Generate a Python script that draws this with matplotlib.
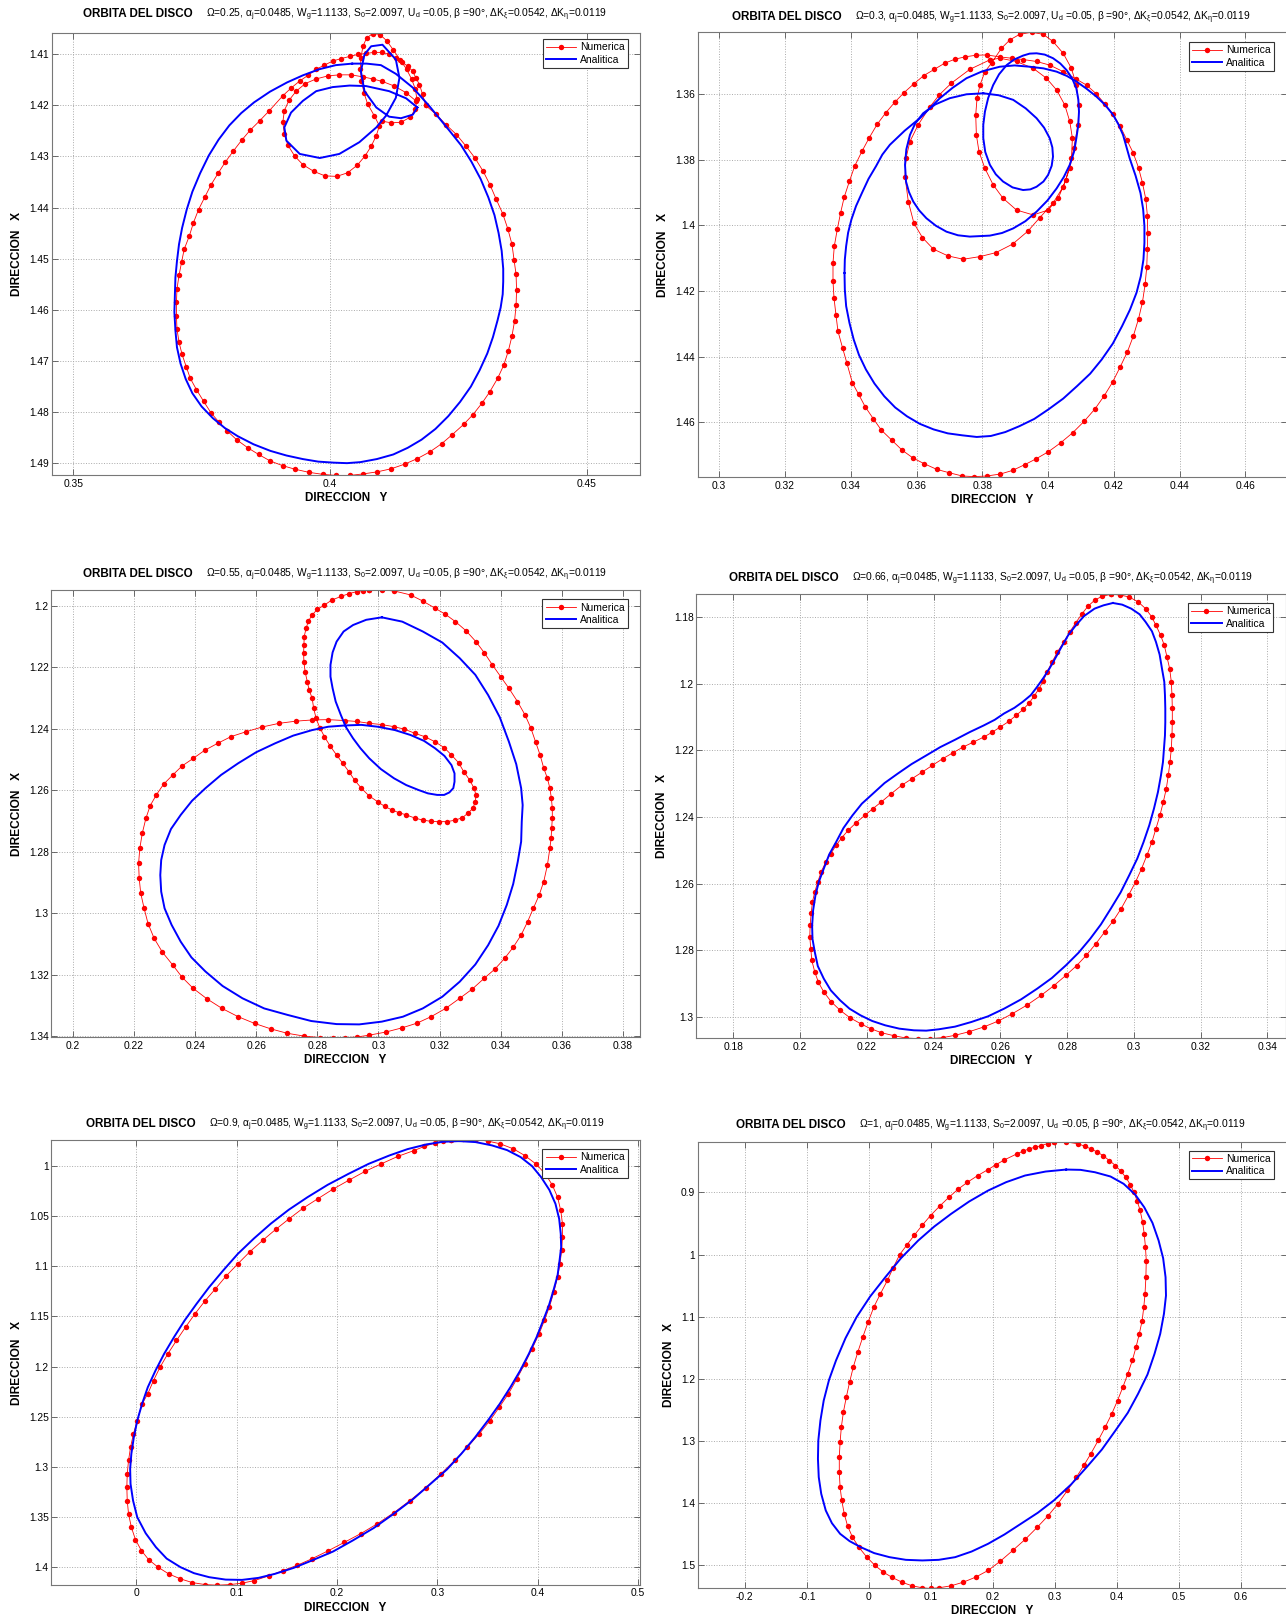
import matplotlib
matplotlib.use('Agg')
import matplotlib.pyplot as plt
from matplotlib.ticker import FuncFormatter

plt.rcParams['font.family'] = ['Liberation Sans', 'DejaVu Sans']
plt.rcParams['mathtext.default'] = 'regular'

# ---- data: (direccion Y, direccion X) pairs ----

omegas = ['0.25', '0.3', '0.55', '0.66', '0.9', '1']

# Omega = 0.25
num1_outer = [(0.4186,1.4200),(0.4206,1.4217),(0.4226,1.4238),(0.4246,1.4257),(0.4264,1.4279),(0.4282,1.4303),
    (0.4298,1.4329),(0.4311,1.4355),(0.4323,1.4383),(0.4336,1.4412),(0.4346,1.4442),(0.4354,1.4472),(0.4358,1.4502),
    (0.4362,1.4531),(0.4363,1.4562),(0.4362,1.4592),(0.4359,1.4623),(0.4354,1.4652),(0.4347,1.4681),(0.4338,1.4709),
    (0.4326,1.4735),(0.4311,1.4761),(0.4296,1.4783),(0.4278,1.4806),(0.4260,1.4825),(0.4238,1.4845),(0.4217,1.4863),
    (0.4194,1.4879),(0.4170,1.4892),(0.4145,1.4903),(0.4119,1.4912),(0.4092,1.4918),(0.4065,1.4922),(0.4039,1.4925),
    (0.4011,1.4925),(0.3986,1.4923),(0.3959,1.4919),(0.3932,1.4913),(0.3908,1.4906),(0.3884,1.4897),(0.3861,1.4884),
    (0.3840,1.4871),(0.3818,1.4855),(0.3800,1.4838),(0.3784,1.4821),(0.3768,1.4802),(0.3754,1.4780),(0.3740,1.4757),
    (0.3728,1.4735),(0.3720,1.4712),(0.3712,1.4688),(0.3706,1.4664),(0.3702,1.4638),(0.3701,1.4612),(0.3701,1.4586),
    (0.3702,1.4560),(0.3706,1.4533),(0.3711,1.4507),(0.3716,1.4482),(0.3726,1.4456),(0.3734,1.4430),(0.3744,1.4404),
    (0.3756,1.4380),(0.3768,1.4356),(0.3782,1.4333),(0.3796,1.4311),(0.3812,1.4289),(0.3828,1.4268),(0.3844,1.4249),
    (0.3863,1.4230),(0.3882,1.4210),(0.3908,1.4181),(0.3924,1.4166),(0.3941,1.4152),(0.3957,1.4141),(0.3973,1.4129),
    (0.3989,1.4121),(0.4005,1.4113),(0.4022,1.4108),(0.4038,1.4104),(0.4054,1.4100),(0.4070,1.4098),(0.4086,1.4096),
    (0.4102,1.4096),(0.4115,1.4100),(0.4128,1.4107),(0.4140,1.4115),(0.4151,1.4123),(0.4161,1.4133),(0.4167,1.4146),
    (0.4174,1.4159),(0.4180,1.4178),(0.4186,1.4200)]
num1_inner = [(0.4167,1.4191),(0.4148,1.4175),(0.4125,1.4162),(0.4102,1.4153),(0.4083,1.4148),(0.4064,1.4144),
    (0.4041,1.4140),(0.4018,1.4140),(0.3996,1.4142),(0.3973,1.4148),(0.3952,1.4157),(0.3934,1.4172),(0.3920,1.4190),
    (0.3911,1.4210),(0.3908,1.4233),(0.3911,1.4256),(0.3918,1.4278),(0.3931,1.4299),(0.3947,1.4316),(0.3968,1.4329),
    (0.3990,1.4338),(0.4013,1.4339),(0.4034,1.4332),(0.4053,1.4317),(0.4068,1.4299),(0.4080,1.4280),(0.4090,1.4259),
    (0.4096,1.4240),(0.4086,1.4220),(0.4073,1.4197),(0.4066,1.4175),(0.4061,1.4152),(0.4059,1.4129),(0.4060,1.4107),
    (0.4064,1.4084),(0.4071,1.4068),(0.4083,1.4059),(0.4097,1.4061),(0.4110,1.4073),(0.4123,1.4091),(0.4136,1.4110),
    (0.4149,1.4129),(0.4159,1.4149),(0.4166,1.4168),(0.4169,1.4188),(0.4166,1.4207),(0.4156,1.4223),(0.4138,1.4233),
    (0.4119,1.4234),(0.4102,1.4231)]
ana1_outer = [(0.4043,1.4118),(0.4071,1.4118),(0.4099,1.4121),(0.4128,1.4138),(0.4161,1.4165),(0.4193,1.4201),
    (0.4232,1.4249),(0.4255,1.4278),(0.4275,1.4310),(0.4293,1.4344),(0.4308,1.4380),(0.4320,1.4415),(0.4328,1.4450),
    (0.4334,1.4485),(0.4337,1.4520),(0.4337,1.4545),(0.4336,1.4570),(0.4332,1.4596),(0.4326,1.4621),(0.4317,1.4654),
    (0.4306,1.4686),(0.4291,1.4719),(0.4274,1.4751),(0.4253,1.4781),(0.4230,1.4809),(0.4205,1.4834),(0.4178,1.4855),
    (0.4151,1.4871),(0.4123,1.4884),(0.4091,1.4893),(0.4059,1.4899),(0.4033,1.4901),(0.4007,1.4900),(0.3977,1.4898),
    (0.3947,1.4893),(0.3915,1.4886),(0.3884,1.4877),(0.3851,1.4864),(0.3820,1.4848),(0.3795,1.4832),(0.3772,1.4813),
    (0.3750,1.4790),(0.3732,1.4764),(0.3719,1.4736),(0.3709,1.4706),(0.3702,1.4674),(0.3699,1.4641),(0.3697,1.4605),
    (0.3698,1.4570),(0.3699,1.4537),(0.3702,1.4505),(0.3706,1.4472),(0.3712,1.4440),(0.3721,1.4404),(0.3732,1.4369),
    (0.3747,1.4333),(0.3764,1.4298),(0.3783,1.4267),(0.3804,1.4239),(0.3827,1.4215),(0.3852,1.4194),(0.3883,1.4173),
    (0.3916,1.4155),(0.3947,1.4141),(0.3979,1.4129),(0.4011,1.4121),(0.4043,1.4118)]
ana1_inner = [(0.4170,1.4204),(0.4148,1.4186),(0.4115,1.4172),(0.4070,1.4162),(0.4038,1.4161),(0.4005,1.4164),
    (0.3973,1.4172),(0.3947,1.4191),(0.3924,1.4214),(0.3911,1.4243),(0.3915,1.4269),(0.3941,1.4295),(0.3980,1.4303),
    (0.4018,1.4295),(0.4057,1.4272),(0.4090,1.4243),(0.4109,1.4220),(0.4128,1.4185),(0.4135,1.4146),(0.4128,1.4110),
    (0.4102,1.4081),(0.4080,1.4084),(0.4067,1.4100),(0.4060,1.4133),(0.4067,1.4172),(0.4090,1.4204),(0.4115,1.4222),
    (0.4138,1.4225),(0.4161,1.4218),(0.4170,1.4204)]

# Omega = 0.3
num2_outer = [(0.3534,1.3624),(0.3562,1.3595),(0.3592,1.3568),(0.3622,1.3543),(0.3654,1.3524),(0.3686,1.3505),
    (0.3717,1.3493),(0.3747,1.3486),(0.3780,1.3481),(0.3813,1.3480),(0.3853,1.3486),(0.3889,1.3490),(0.3924,1.3494),
    (0.3965,1.3500),(0.4005,1.3511),(0.4046,1.3531),(0.4086,1.3554),(0.4117,1.3572),(0.4147,1.3599),(0.4172,1.3629),
    (0.4196,1.3659),(0.4219,1.3697),(0.4239,1.3738),(0.4259,1.3779),(0.4275,1.3824),(0.4287,1.3870),(0.4297,1.3919),
    (0.4302,1.3970),(0.4303,1.4023),(0.4302,1.4073),(0.4300,1.4127),(0.4295,1.4180),(0.4287,1.4234),(0.4275,1.4285),
    (0.4259,1.4338),(0.4241,1.4386),(0.4219,1.4432),(0.4196,1.4478),(0.4171,1.4519),(0.4143,1.4559),(0.4110,1.4597),
    (0.4075,1.4632),(0.4038,1.4663),(0.4001,1.4690),(0.3963,1.4712),(0.3930,1.4729),(0.3892,1.4747),(0.3855,1.4758),
    (0.3814,1.4764),(0.3776,1.4766),(0.3739,1.4764),(0.3699,1.4754),(0.3662,1.4744),(0.3624,1.4727),(0.3589,1.4709),
    (0.3556,1.4685),(0.3525,1.4655),(0.3493,1.4624),(0.3469,1.4590),(0.3444,1.4553),(0.3424,1.4515),(0.3405,1.4480),
    (0.3388,1.4419),(0.3375,1.4373),(0.3361,1.4322),(0.3355,1.4272),(0.3349,1.4221),(0.3346,1.4170),(0.3346,1.4114),
    (0.3350,1.4063),(0.3359,1.4012),(0.3369,1.3962),(0.3380,1.3914),(0.3396,1.3865),(0.3412,1.3819),(0.3434,1.3774),
    (0.3456,1.3733),(0.3480,1.3692),(0.3506,1.3657),(0.3534,1.3624)]
num2_inner = [(0.3823,1.3495),(0.3762,1.3524),(0.3706,1.3566),(0.3669,1.3602),(0.3641,1.3638),(0.3605,1.3693),
    (0.3580,1.3744),(0.3568,1.3795),(0.3565,1.3851),(0.3575,1.3927),(0.3592,1.3993),(0.3618,1.4037),(0.3651,1.4072),
    (0.3696,1.4093),(0.3742,1.4103),(0.3793,1.4095),(0.3841,1.4083),(0.3892,1.4057),(0.3939,1.4017),(0.3975,1.3976),
    (0.4015,1.3932),(0.4046,1.3882),(0.4066,1.3826),(0.4078,1.3765),(0.4091,1.3693),(0.4094,1.3633),(0.4086,1.3572),
    (0.4071,1.3521),(0.4046,1.3475),(0.4015,1.3439),(0.3985,1.3417),(0.3950,1.3411),(0.3914,1.3417),(0.3884,1.3434),
    (0.3858,1.3460),(0.3828,1.3505),(0.3808,1.3531),(0.3793,1.3572),(0.3784,1.3612),(0.3780,1.3663),(0.3782,1.3724),
    (0.3790,1.3775),(0.3808,1.3826),(0.3833,1.3876),(0.3863,1.3917),(0.3904,1.3953),(0.3955,1.3968),(0.4000,1.3953),
    (0.4031,1.3917),(0.4054,1.3861),(0.4071,1.3795),(0.4074,1.3734),(0.4066,1.3683),(0.4051,1.3633),(0.4026,1.3587),
    (0.3995,1.3551),(0.3955,1.3521),(0.3904,1.3500),(0.3853,1.3490),(0.3823,1.3495)]
ana2_outer = [(0.3381,1.4145),(0.3382,1.4104),(0.3386,1.4063),(0.3392,1.4022),(0.3402,1.3982),(0.3416,1.3941),
    (0.3434,1.3901),(0.3454,1.3858),(0.3477,1.3819),(0.3496,1.3784),(0.3519,1.3754),(0.3564,1.3711),(0.3610,1.3673),
    (0.3671,1.3612),(0.3710,1.3580),(0.3752,1.3551),(0.3800,1.3530),(0.3853,1.3516),(0.3898,1.3512),(0.3944,1.3516),
    (0.3986,1.3521),(0.4026,1.3531),(0.4057,1.3544),(0.4086,1.3561),(0.4117,1.3583),(0.4147,1.3607),(0.4174,1.3633),
    (0.4198,1.3663),(0.4214,1.3692),(0.4228,1.3724),(0.4248,1.3795),(0.4266,1.3848),(0.4281,1.3901),(0.4289,1.3950),
    (0.4293,1.4002),(0.4293,1.4053),(0.4290,1.4104),(0.4282,1.4155),(0.4269,1.4205),(0.4249,1.4257),(0.4225,1.4307),
    (0.4197,1.4360),(0.4163,1.4409),(0.4128,1.4452),(0.4088,1.4490),(0.4046,1.4528),(0.4001,1.4561),(0.3958,1.4590),
    (0.3913,1.4612),(0.3870,1.4630),(0.3826,1.4642),(0.3783,1.4645),(0.3739,1.4640),(0.3695,1.4634),(0.3652,1.4622),
    (0.3610,1.4605),(0.3571,1.4582),(0.3535,1.4555),(0.3502,1.4521),(0.3472,1.4482),(0.3446,1.4439),(0.3425,1.4395),
    (0.3409,1.4348),(0.3396,1.4297),(0.3386,1.4246),(0.3382,1.4196),(0.3381,1.4145)]
ana2_inner = [(0.3803,1.3597),(0.3752,1.3600),(0.3701,1.3612),(0.3657,1.3631),(0.3620,1.3658),(0.3596,1.3689),
    (0.3580,1.3724),(0.3569,1.3768),(0.3565,1.3815),(0.3568,1.3866),(0.3577,1.3898),(0.3590,1.3927),(0.3608,1.3954),
    (0.3630,1.3978),(0.3659,1.4001),(0.3691,1.4019),(0.3726,1.4030),(0.3762,1.4034),(0.3823,1.4031),(0.3860,1.4023),
    (0.3894,1.4009),(0.3931,1.3987),(0.3965,1.3958),(0.3998,1.3924),(0.4026,1.3887),(0.4048,1.3852),(0.4066,1.3815),
    (0.4079,1.3775),(0.4086,1.3734),(0.4092,1.3693),(0.4094,1.3653),(0.4092,1.3616),(0.4086,1.3582),(0.4073,1.3551),
    (0.4056,1.3526),(0.4037,1.3506),(0.4015,1.3490),(0.3990,1.3479),(0.3965,1.3475),(0.3944,1.3476),(0.3924,1.3482),
    (0.3897,1.3494),(0.3874,1.3511),(0.3851,1.3539),(0.3833,1.3572),(0.3818,1.3611),(0.3808,1.3653),(0.3803,1.3693),
    (0.3803,1.3734),(0.3809,1.3776),(0.3823,1.3815),(0.3841,1.3844),(0.3863,1.3866),(0.3892,1.3884),(0.3924,1.3892),
    (0.3946,1.3890),(0.3965,1.3882),(0.3986,1.3866),(0.4000,1.3846),(0.4011,1.3818),(0.4015,1.3790),(0.4013,1.3762),
    (0.4005,1.3734),(0.3988,1.3702),(0.3965,1.3673),(0.3932,1.3643),(0.3894,1.3617),(0.3850,1.3603),(0.3803,1.3597)]

# Omega = 0.55
num3 = [(0.2970,1.1948),(0.3011,1.1948),(0.3051,1.1951),(0.3105,1.1964),(0.3145,1.1984),(0.3185,1.2007),
    (0.3219,1.2027),(0.3252,1.2051),(0.3287,1.2081),(0.3319,1.2116),(0.3347,1.2153),(0.3373,1.2192),(0.3400,1.2230),
    (0.3427,1.2268),(0.3455,1.2311),(0.3480,1.2355),(0.3499,1.2398),(0.3514,1.2442),(0.3529,1.2485),(0.3541,1.2528),
    (0.3553,1.2561),(0.3561,1.2593),(0.3566,1.2626),(0.3569,1.2659),(0.3569,1.2691),(0.3567,1.2724),(0.3565,1.2756),
    (0.3561,1.2789),(0.3553,1.2843),(0.3541,1.2897),(0.3526,1.2941),(0.3507,1.2984),(0.3488,1.3028),(0.3467,1.3071),
    (0.3441,1.3111),(0.3413,1.3147),(0.3381,1.3182),(0.3346,1.3212),(0.3307,1.3247),(0.3266,1.3277),(0.3220,1.3310),
    (0.3172,1.3337),(0.3126,1.3358),(0.3078,1.3373),(0.3024,1.3387),(0.2970,1.3397),(0.2930,1.3403),(0.2890,1.3405),
    (0.2850,1.3407),(0.2810,1.3405),(0.2756,1.3400),(0.2702,1.3391),(0.2649,1.3377),(0.2595,1.3359),(0.2541,1.3337),
    (0.2488,1.3310),(0.2439,1.3279),(0.2394,1.3245),(0.2357,1.3208),(0.2327,1.3169),(0.2293,1.3127),(0.2266,1.3082),
    (0.2246,1.3034),(0.2233,1.2984),(0.2222,1.2935),(0.2217,1.2887),(0.2215,1.2838),(0.2219,1.2789),(0.2227,1.2740),
    (0.2239,1.2691),(0.2253,1.2650),(0.2273,1.2615),(0.2297,1.2580),(0.2327,1.2550),(0.2357,1.2521),(0.2394,1.2496),
    (0.2431,1.2470),(0.2474,1.2447),(0.2518,1.2425),(0.2568,1.2409),(0.2619,1.2394),(0.2675,1.2382),(0.2729,1.2375),
    (0.2783,1.2371),(0.2836,1.2370),(0.2890,1.2373),(0.2930,1.2376),(0.2970,1.2382),(0.3011,1.2386),(0.3051,1.2393),
    (0.3085,1.2401),(0.3118,1.2414),(0.3153,1.2426),(0.3185,1.2442),(0.3215,1.2461),(0.3239,1.2485),(0.3262,1.2510),
    (0.3279,1.2539),(0.3298,1.2566),(0.3313,1.2593),(0.3319,1.2615),(0.3317,1.2637),(0.3309,1.2659),(0.3292,1.2675),
    (0.3275,1.2689),(0.3252,1.2697),(0.3225,1.2702),(0.3199,1.2702),(0.3172,1.2701),(0.3145,1.2697),(0.3118,1.2690),
    (0.3091,1.2680),(0.3067,1.2673),(0.3044,1.2664),(0.3020,1.2652),(0.2997,1.2637),(0.2968,1.2617),(0.2944,1.2593),
    (0.2922,1.2567),(0.2903,1.2539),(0.2883,1.2512),(0.2863,1.2485),(0.2842,1.2456),(0.2823,1.2425),(0.2808,1.2396),
    (0.2796,1.2366),(0.2788,1.2333),(0.2783,1.2300),(0.2773,1.2273),(0.2767,1.2246),(0.2760,1.2214),(0.2756,1.2181),
    (0.2755,1.2154),(0.2756,1.2127),(0.2757,1.2100),(0.2763,1.2073),(0.2771,1.2049),(0.2783,1.2029),(0.2800,1.2011),
    (0.2823,1.1997),(0.2847,1.1981),(0.2877,1.1969),(0.2903,1.1960),(0.2930,1.1953),(0.2950,1.1950),(0.2970,1.1948)]
ana3 = [(0.3011,1.2037),(0.3078,1.2051),(0.3145,1.2083),(0.3209,1.2119),(0.3266,1.2170),(0.3317,1.2224),
    (0.3359,1.2290),(0.3397,1.2362),(0.3427,1.2442),(0.3451,1.2515),(0.3467,1.2593),(0.3472,1.2648),(0.3469,1.2702),
    (0.3467,1.2767),(0.3456,1.2832),(0.3441,1.2905),(0.3420,1.2973),(0.3393,1.3041),(0.3359,1.3104),(0.3317,1.3167),
    (0.3266,1.3223),(0.3209,1.3272),(0.3145,1.3310),(0.3080,1.3337),(0.3011,1.3353),(0.2937,1.3362),(0.2863,1.3361),
    (0.2780,1.3351),(0.2702,1.3331),(0.2626,1.3310),(0.2555,1.3277),(0.2490,1.3237),(0.2434,1.3190),(0.2388,1.3144),
    (0.2353,1.3093),(0.2323,1.3038),(0.2300,1.2984),(0.2289,1.2930),(0.2286,1.2876),(0.2289,1.2827),(0.2300,1.2778),
    (0.2321,1.2726),(0.2353,1.2680),(0.2390,1.2634),(0.2434,1.2593),(0.2485,1.2550),(0.2541,1.2512),(0.2600,1.2476),
    (0.2662,1.2447),(0.2721,1.2422),(0.2783,1.2404),(0.2836,1.2393),(0.2890,1.2389),(0.2944,1.2387),(0.2997,1.2393),
    (0.3054,1.2404),(0.3105,1.2420),(0.3149,1.2439),(0.3185,1.2463),(0.3216,1.2488),(0.3239,1.2518),(0.3249,1.2545),
    (0.3249,1.2572),(0.3245,1.2593),(0.3232,1.2607),(0.3215,1.2615),(0.3192,1.2615),(0.3162,1.2610),(0.3131,1.2599),
    (0.3091,1.2583),(0.3051,1.2561),(0.3008,1.2531),(0.2970,1.2496),(0.2941,1.2463),(0.2917,1.2431),(0.2894,1.2395),
    (0.2877,1.2355),(0.2860,1.2311),(0.2850,1.2268),(0.2843,1.2230),(0.2843,1.2192),(0.2850,1.2151),(0.2863,1.2116),
    (0.2886,1.2083),(0.2917,1.2062),(0.2960,1.2045),(0.3011,1.2037)]

# Omega = 0.66
num4 = [(0.2931,1.1731),(0.2959,1.1733),(0.2986,1.1739),(0.3013,1.1754),(0.3035,1.1774),(0.3053,1.1798),
    (0.3066,1.1824),(0.3080,1.1854),(0.3091,1.1884),(0.3099,1.1919),(0.3107,1.1954),(0.3112,1.1994),(0.3114,1.2034),
    (0.3115,1.2074),(0.3115,1.2115),(0.3114,1.2155),(0.3112,1.2195),(0.3108,1.2235),(0.3103,1.2275),(0.3097,1.2315),
    (0.3088,1.2355),(0.3078,1.2395),(0.3066,1.2435),(0.3054,1.2475),(0.3039,1.2515),(0.3023,1.2555),(0.3005,1.2595),
    (0.2984,1.2635),(0.2962,1.2675),(0.2938,1.2712),(0.2912,1.2746),(0.2885,1.2782),(0.2857,1.2816),(0.2828,1.2847),
    (0.2796,1.2876),(0.2760,1.2907),(0.2722,1.2936),(0.2680,1.2965),(0.2636,1.2991),(0.2594,1.3013),(0.2550,1.3031),
    (0.2507,1.3045),(0.2464,1.3056),(0.2427,1.3063),(0.2390,1.3066),(0.2353,1.3066),(0.2316,1.3064),(0.2280,1.3057),
    (0.2243,1.3048),(0.2211,1.3036),(0.2181,1.3021),(0.2149,1.3003),(0.2120,1.2981),(0.2093,1.2955),(0.2071,1.2926),
    (0.2055,1.2897),(0.2044,1.2866),(0.2035,1.2831),(0.2032,1.2796),(0.2029,1.2761),(0.2030,1.2726),(0.2033,1.2690),
    (0.2037,1.2655),(0.2044,1.2625),(0.2053,1.2595),(0.2063,1.2565),(0.2077,1.2535),(0.2092,1.2510),(0.2108,1.2485),
    (0.2125,1.2462),(0.2144,1.2440),(0.2168,1.2417),(0.2194,1.2395),(0.2218,1.2375),(0.2243,1.2355),(0.2273,1.2330),
    (0.2304,1.2305),(0.2335,1.2285),(0.2366,1.2265),(0.2396,1.2245),(0.2427,1.2225),(0.2458,1.2207),(0.2488,1.2190),
    (0.2519,1.2175),(0.2550,1.2160),(0.2576,1.2145),(0.2599,1.2130),(0.2625,1.2113),(0.2648,1.2094),(0.2668,1.2077),
    (0.2685,1.2059),(0.2701,1.2037),(0.2716,1.2014),(0.2729,1.1990),(0.2740,1.1964),(0.2755,1.1934),(0.2771,1.1904),
    (0.2790,1.1874),(0.2808,1.1844),(0.2826,1.1816),(0.2845,1.1789),(0.2862,1.1767),(0.2882,1.1749),(0.2904,1.1737),
    (0.2931,1.1731)]
ana4 = [(0.2937,1.1757),(0.2965,1.1762),(0.2992,1.1774),(0.3017,1.1791),(0.3035,1.1814),(0.3054,1.1842),
    (0.3066,1.1874),(0.3077,1.1912),(0.3084,1.1954),(0.3091,1.1994),(0.3093,1.2034),(0.3094,1.2074),(0.3094,1.2115),
    (0.3093,1.2155),(0.3090,1.2195),(0.3087,1.2235),(0.3081,1.2275),(0.3072,1.2325),(0.3060,1.2375),(0.3046,1.2425),
    (0.3029,1.2475),(0.3010,1.2525),(0.2986,1.2575),(0.2960,1.2627),(0.2931,1.2675),(0.2901,1.2723),(0.2869,1.2766),
    (0.2834,1.2808),(0.2796,1.2846),(0.2754,1.2884),(0.2710,1.2916),(0.2662,1.2948),(0.2611,1.2976),(0.2563,1.2999),
    (0.2513,1.3016),(0.2464,1.3030),(0.2415,1.3038),(0.2378,1.3042),(0.2341,1.3041),(0.2297,1.3036),(0.2255,1.3026),
    (0.2216,1.3013),(0.2181,1.2996),(0.2148,1.2976),(0.2120,1.2951),(0.2092,1.2921),(0.2071,1.2886),(0.2053,1.2848),
    (0.2044,1.2806),(0.2037,1.2766),(0.2036,1.2726),(0.2039,1.2680),(0.2046,1.2635),(0.2056,1.2595),(0.2071,1.2555),
    (0.2087,1.2513),(0.2108,1.2475),(0.2130,1.2433),(0.2157,1.2395),(0.2185,1.2360),(0.2218,1.2330),(0.2253,1.2298),
    (0.2292,1.2270),(0.2334,1.2241),(0.2378,1.2215),(0.2420,1.2190),(0.2464,1.2168),(0.2508,1.2145),(0.2550,1.2125),
    (0.2583,1.2108),(0.2611,1.2089),(0.2642,1.2072),(0.2667,1.2054),(0.2691,1.2034),(0.2710,1.2009),(0.2729,1.1982),
    (0.2747,1.1954),(0.2765,1.1922),(0.2783,1.1889),(0.2803,1.1854),(0.2826,1.1824),(0.2851,1.1796),(0.2882,1.1774),
    (0.2909,1.1764),(0.2937,1.1757)]

# Omega = 0.9
num5 = [(0.3136,0.9735),(0.3258,0.9728),(0.3381,0.9732),(0.3503,0.9748),(0.3626,0.9775),(0.3757,0.9825),
    (0.3871,0.9892),(0.3981,0.9975),(0.4075,1.0075),(0.4145,1.0185),(0.4198,1.0308),(0.4230,1.0441),(0.4247,1.0574),
    (0.4247,1.0708),(0.4239,1.0841),(0.4222,1.0974),(0.4198,1.1107),(0.4161,1.1257),(0.4116,1.1407),(0.4067,1.1540),
    (0.4014,1.1674),(0.3944,1.1823),(0.3871,1.1973),(0.3793,1.2123),(0.3708,1.2273),(0.3618,1.2406),(0.3524,1.2540),
    (0.3417,1.2673),(0.3299,1.2806),(0.3172,1.2939),(0.3034,1.3073),(0.2886,1.3209),(0.2727,1.3339),(0.2568,1.3459),
    (0.2400,1.3572),(0.2237,1.3669),(0.2074,1.3756),(0.1910,1.3842),(0.1747,1.3922),(0.1604,1.3985),(0.1461,1.4039),
    (0.1318,1.4092),(0.1175,1.4139),(0.1052,1.4165),(0.0930,1.4179),(0.0807,1.4185),(0.0685,1.4179),(0.0558,1.4159),
    (0.0439,1.4122),(0.0321,1.4072),(0.0215,1.4005),(0.0121,1.3929),(0.0049,1.3839),(-0.0010,1.3729),(-0.0051,1.3606),
    (-0.0079,1.3472),(-0.0092,1.3339),(-0.0096,1.3206),(-0.0092,1.3073),(-0.0079,1.2939),(-0.0059,1.2806),
    (-0.0030,1.2673),(0.0008,1.2540),(0.0056,1.2373),(0.0113,1.2273),(0.0170,1.2140),(0.0235,1.2007),(0.0313,1.1873),
    (0.0399,1.1740),(0.0489,1.1607),(0.0583,1.1474),(0.0681,1.1347),(0.0787,1.1224),(0.0893,1.1097),(0.1011,1.0974),
    (0.1130,1.0854),(0.1257,1.0741),(0.1387,1.0631),(0.1522,1.0524),(0.1661,1.0418),(0.1808,1.0324),(0.1959,1.0228),
    (0.2114,1.0141),(0.2278,1.0051),(0.2441,0.9975),(0.2605,0.9901),(0.2768,0.9842),(0.2870,0.9801),(0.2972,0.9768),
    (0.3054,0.9748),(0.3136,0.9735)]
ana5 = [(0.3217,0.9748),(0.3381,0.9758),(0.3544,0.9791),(0.3695,0.9838),(0.3830,0.9908),(0.3944,0.9998),
    (0.4034,1.0108),(0.4116,1.0235),(0.4177,1.0374),(0.4214,1.0524),(0.4230,1.0674),(0.4234,1.0807),(0.4218,1.0941),
    (0.4198,1.1091),(0.4157,1.1240),(0.4112,1.1390),(0.4055,1.1540),(0.3989,1.1707),(0.3912,1.1873),(0.3826,1.2040),
    (0.3728,1.2207),(0.3622,1.2373),(0.3503,1.2540),(0.3377,1.2706),(0.3238,1.2873),(0.3095,1.3029),(0.2931,1.3173),
    (0.2756,1.3326),(0.2564,1.3472),(0.2368,1.3612),(0.2155,1.3739),(0.1959,1.3849),(0.1747,1.3939),(0.1567,1.4012),
    (0.1379,1.4072),(0.1216,1.4112),(0.1052,1.4132),(0.0889,1.4129),(0.0725,1.4105),(0.0574,1.4065),(0.0439,1.4005),
    (0.0301,1.3919),(0.0194,1.3805),(0.0092,1.3666),(0.0008,1.3506),(-0.0034,1.3339),(-0.0059,1.3173),
    (-0.0063,1.3023),(-0.0051,1.2873),(-0.0026,1.2706),(0.0008,1.2540),(0.0056,1.2373),(0.0113,1.2207),
    (0.0190,1.2040),(0.0276,1.1873),(0.0374,1.1707),(0.0480,1.1540),(0.0599,1.1374),(0.0725,1.1207),(0.0864,1.1041),
    (0.1011,1.0874),(0.1171,1.0721),(0.1338,1.0574),(0.1518,1.0434),(0.1706,1.0308),(0.1906,1.0185),(0.2114,1.0075),
    (0.2315,0.9975),(0.2523,0.9891),(0.2703,0.9828),(0.2891,0.9781),(0.3054,0.9755),(0.3217,0.9748)]

# Omega = 1
num6 = [(0.2980,0.8193),(0.3179,0.8188),(0.3377,0.8220),(0.3477,0.8257),(0.3576,0.8300),(0.3675,0.8349),
    (0.3775,0.8408),(0.3874,0.8488),(0.3974,0.8568),(0.4060,0.8660),(0.4139,0.8756),(0.4212,0.8874),(0.4272,0.8997),
    (0.4325,0.9142),(0.4371,0.9290),(0.4411,0.9480),(0.4437,0.9668),(0.4457,0.9882),(0.4470,1.0097),(0.4464,1.0365),
    (0.4450,1.0633),(0.4430,1.0847),(0.4404,1.1062),(0.4358,1.1276),(0.4305,1.1491),(0.4245,1.1705),(0.4172,1.1920),
    (0.4093,1.2134),(0.4007,1.2349),(0.3914,1.2563),(0.3808,1.2777),(0.3695,1.2992),(0.3576,1.3206),(0.3464,1.3394),
    (0.3344,1.3582),(0.3199,1.3796),(0.3046,1.4011),(0.2887,1.4204),(0.2715,1.4386),(0.2523,1.4579),(0.2318,1.4761),
    (0.2119,1.4933),(0.1921,1.5083),(0.1722,1.5190),(0.1523,1.5271),(0.1325,1.5330),(0.1126,1.5362),(0.0993,1.5373),
    (0.0861,1.5362),(0.0695,1.5330),(0.0530,1.5271),(0.0377,1.5196),(0.0232,1.5110),(0.0093,1.4997),(-0.0033,1.4869),
    (-0.0159,1.4713),(-0.0265,1.4547),(-0.0344,1.4365),(-0.0397,1.4172),(-0.0437,1.3957),(-0.0464,1.3743),
    (-0.0477,1.3501),(-0.0477,1.3260),(-0.0464,1.3019),(-0.0444,1.2777),(-0.0411,1.2536),(-0.0364,1.2295),
    (-0.0311,1.2054),(-0.0252,1.1812),(-0.0179,1.1571),(-0.0099,1.1330),(-0.0013,1.1088),(0.0079,1.0847),
    (0.0185,1.0633),(0.0298,1.0418),(0.0391,1.0214),(0.0497,1.0000),(0.0609,0.9850),(0.0728,0.9694),(0.0861,0.9528),
    (0.0993,0.9373),(0.1139,0.9223),(0.1291,0.9078),(0.1437,0.8949),(0.1589,0.8837),(0.1755,0.8729),(0.1921,0.8633),
    (0.2053,0.8552),(0.2185,0.8477),(0.2384,0.8381),(0.2483,0.8338),(0.2583,0.8300),(0.2682,0.8273),(0.2781,0.8247),
    (0.2881,0.8214),(0.2980,0.8193)]
ana6 = [(0.3179,0.8633),(0.3411,0.8638),(0.3642,0.8676),(0.3894,0.8745),(0.4106,0.8863),(0.4291,0.9035),
    (0.4437,0.9239),(0.4570,0.9491),(0.4669,0.9775),(0.4742,1.0059),(0.4781,1.0365),(0.4788,1.0660),(0.4755,1.0954),
    (0.4695,1.1276),(0.4603,1.1598),(0.4490,1.1930),(0.4338,1.2241),(0.4172,1.2547),(0.3974,1.2831),(0.3755,1.3137),
    (0.3510,1.3421),(0.3258,1.3700),(0.2980,1.3957),(0.2722,1.4155),(0.2450,1.4332),(0.2185,1.4504),(0.1921,1.4654),
    (0.1656,1.4778),(0.1391,1.4869),(0.1126,1.4912),(0.0861,1.4922),(0.0596,1.4912),(0.0331,1.4869),(0.0086,1.4804),
    (-0.0132,1.4708),(-0.0311,1.4611),(-0.0464,1.4493),(-0.0596,1.4322),(-0.0695,1.4118),(-0.0768,1.3850),
    (-0.0808,1.3582),(-0.0821,1.3287),(-0.0815,1.2992),(-0.0781,1.2670),(-0.0728,1.2349),(-0.0642,1.2016),
    (-0.0530,1.1705),(-0.0377,1.1346),(-0.0199,1.1008),(0.0020,1.0676),(0.0265,1.0365),(0.0517,1.0059),
    (0.0795,0.9775),(0.1053,0.9550),(0.1325,0.9346),(0.1616,0.9147),(0.1921,0.8971),(0.2212,0.8836),(0.2517,0.8729),
    (0.2848,0.8665),(0.3179,0.8633)]

xticks_all = [[0.35, 0.4, 0.45],
              [0.3, 0.32, 0.34, 0.36, 0.38, 0.4, 0.42, 0.44, 0.46],
              [0.2, 0.22, 0.24, 0.26, 0.28, 0.3, 0.32, 0.34, 0.36, 0.38],
              [0.18, 0.2, 0.22, 0.24, 0.26, 0.28, 0.3, 0.32, 0.34],
              [0, 0.1, 0.2, 0.3, 0.4, 0.5],
              [-0.2, -0.1, 0, 0.1, 0.2, 0.3, 0.4, 0.5, 0.6]]
yticks_all = [[1.41, 1.42, 1.43, 1.44, 1.45, 1.46, 1.47, 1.48, 1.49],
              [1.36, 1.38, 1.4, 1.42, 1.44, 1.46],
              [1.2, 1.22, 1.24, 1.26, 1.28, 1.3, 1.32, 1.34],
              [1.18, 1.2, 1.22, 1.24, 1.26, 1.28, 1.3],
              [1, 1.05, 1.1, 1.15, 1.2, 1.25, 1.3, 1.35, 1.4],
              [0.9, 1, 1.1, 1.2, 1.3, 1.4, 1.5]]

numerica = [[num1_outer, num1_inner], [num2_outer, num2_inner], [num3], [num4], [num5], [num6]]
analitica = [[ana1_outer, ana1_inner], [ana2_outer, ana2_inner], [ana3], [ana4], [ana5], [ana6]]

# ---- layout (pixel boxes, limits, title offsets) ----
W, H = 1286, 1617
layout = [
    dict(rect=[51.6, 33.0, 588.8, 442.4], xlim=(0.3458, 0.4604), ylim=(1.4925, 1.4058), ty=1.043, bx=0.240, px=0.262, ly=0.986),
    dict(rect=[697.5, 32.3, 589.0, 445.0], xlim=(0.2934, 0.4725), ylim=(1.4768, 1.3411), ty=1.035, bx=0.245, px=0.267, ly=0.978),
    dict(rect=[51.2, 590.0, 588.8, 447.3], xlim=(0.1929, 0.3856), ylim=(1.3404, 1.1948), ty=1.035, bx=0.240, px=0.263, ly=0.979),
    dict(rect=[696.3, 594.0, 589.5, 444.3], xlim=(0.1689, 0.3455), ylim=(1.3065, 1.1730), ty=1.035, bx=0.241, px=0.264, ly=0.979),
    dict(rect=[51.2, 1140.0, 588.8, 445.0], xlim=(-0.085, 0.502), ylim=(1.4183, 0.9737), ty=1.036, bx=0.245, px=0.268, ly=0.979),
    dict(rect=[697.5, 1141.7, 589.0, 446.6], xlim=(-0.2762, 0.673), ylim=(1.537, 0.8185), ty=1.037, bx=0.252, px=0.274, ly=0.980),
]

fig = plt.figure(figsize=(W / 100, H / 100), dpi=100)
fmt = FuncFormatter(lambda v, p: '%g' % round(v, 6))

for i in range(6):
    L = layout[i]
    l, t, w, h = L['rect']
    ax = fig.add_axes([l / W, 1 - (t + h) / H, w / W, h / H])
    ax.set_xlim(*L['xlim'])
    ax.set_ylim(*L['ylim'])

    for k, seg in enumerate(numerica[i]):
        xs, ys = zip(*seg)
        ln_n, = ax.plot(xs, ys, '-', color='red', lw=0.6, marker='o', ms=3.9,
                        mfc='red', mec='red', mew=0, label='Numerica' if k == 0 else None)
        if k == 0:
            h_num = ln_n
    for k, seg in enumerate(analitica[i]):
        xs, ys = zip(*seg)
        ln_a, = ax.plot(xs, ys, '-', color='#0000ff', lw=1.4, label='Analitica' if k == 0 else None)
        if k == 0:
            h_ana = ln_a

    ax.set_xticks(xticks_all[i])
    ax.set_yticks(yticks_all[i])
    ax.xaxis.set_major_formatter(fmt)
    ax.yaxis.set_major_formatter(fmt)
    ax.tick_params(direction='in', length=4, width=0.6, top=True, right=True, labelsize=7.4,
                   color='#555555')
    ax.tick_params(axis='x', pad=2.5)
    ax.tick_params(axis='y', pad=1.8)
    ax.grid(True, linestyle=':', color='#aaaaaa', lw=0.7)
    for s in ax.spines.values():
        s.set_color('#777777')
        s.set_linewidth(0.8)

    ax.set_xlabel('DIRECCION   Y', fontsize=8.4, fontweight='bold', labelpad=2.5)
    ax.set_ylabel('DIRECCION   X', fontsize=8.6, fontweight='bold', labelpad=4.5)

    ax.text(L['bx'], L['ty'], 'ORBITA DEL DISCO', transform=ax.transAxes, ha='right', va='center',
            fontsize=8.4, fontweight='bold')
    params = ('\u03a9=' + omegas[i] + ', \u03b1$_j$=0.0485, W$_g$=1.1133, S$_0$=2.0097, U$_d$ =0.05, '
              '\u03b2 =90\u00b0, \u0394K$_\u03be$=0.0542, \u0394K$_\u03b7$=0.0119')
    ax.text(L['px'], L['ty'], params, transform=ax.transAxes, ha='left', va='center', fontsize=7.4)

    leg = ax.legend(handles=[h_num, h_ana], loc='upper right', bbox_to_anchor=(0.979, L['ly']),
                    borderaxespad=0, fontsize=7.5, frameon=True, fancybox=False, edgecolor='#333333',
                    framealpha=1, borderpad=0.3, labelspacing=0.25, handlelength=2.9, handletextpad=0.4)
    leg.get_frame().set_linewidth(0.8)

fig.savefig('out.png', dpi=100, facecolor='white')
